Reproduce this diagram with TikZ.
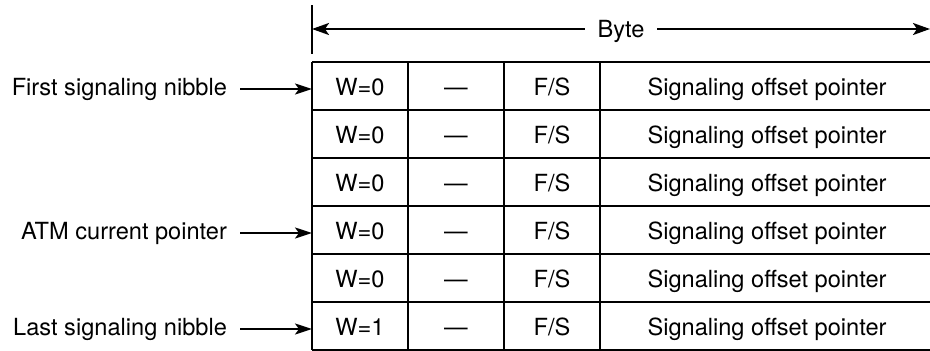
\documentclass[tikz,border=0pt]{standalone}
\usepackage{fontspec}
\setmainfont{TeX Gyre Heros}
\usetikzlibrary{arrows.meta}

\begin{document}
\begin{tikzpicture}[x=1pt, y=-1pt, line width=2.2pt,
  every node/.style={font=\fontsize{23.6}{28}\selectfont, text height=18pt, text depth=5pt},
  ptr/.style={-{Stealth[length=17pt,width=11pt,inset=4pt]}},
  span/.style={{Stealth[length=17pt,width=12pt,inset=4pt]}-{Stealth[length=17pt,width=12pt,inset=4pt]}}]
  % Dimensions
  \def\xl{312}
  \def\xa{408}
  \def\xb{504}
  \def\xc{600}
  \def\xr{932}
  \def\ytop{62}
  \def\rh{48}
  \useasboundingbox (0,0) rectangle (930,351);

  % Byte span
  \draw (\xl,5) -- (\xl,54);
  \coordinate (bl) at (\xl,29);
  \coordinate (br) at (930,29);
  \draw[span] (bl) -- node[fill=white, inner xsep=13pt, yshift=-2pt] (byte) {Byte} (br);

  % Table
  \foreach \i in {0,...,6}
    \draw (\xl,{\ytop+\i*\rh}) -- (\xr,{\ytop+\i*\rh});
  \foreach \x in {\xl,\xa,\xb,\xc}
    \draw (\x,\ytop) -- (\x,{\ytop+6*\rh});

  % Cells
  \foreach \i/\w in {1/0,2/0,3/0,4/0,5/0,6/1} {
    \pgfmathsetmacro{\yc}{\ytop+(\i-0.5)*\rh+3}
    \coordinate (row\i) at (\xl,\yc);
    \node (w\i)  at ({(\xl+\xa)/2},\yc) {W=\w};
    \node (d\i)  at ({(\xa+\xb)/2},\yc) {—};
    \node (fs\i) at ({(\xb+\xc)/2},\yc) {F/S};
    \node (sp\i) at (767,\yc) {Signaling offset pointer};
  }

  % Pointers
  \node[anchor=east, inner xsep=12pt] (first) at (240,{\ytop+0.5*\rh+3}) {First signaling nibble};
  \node[anchor=east, inner xsep=12pt] (atm)   at (240,{\ytop+3.5*\rh+3}) {ATM current pointer};
  \node[anchor=east, inner xsep=12pt] (last)  at (240,{\ytop+5.5*\rh+3}) {Last signaling nibble};
  \draw[ptr] (first.east) -- (row1);
  \draw[ptr] (atm.east) -- (row4);
  \draw[ptr] (last.east) -- (row6);
\end{tikzpicture}
\end{document}
